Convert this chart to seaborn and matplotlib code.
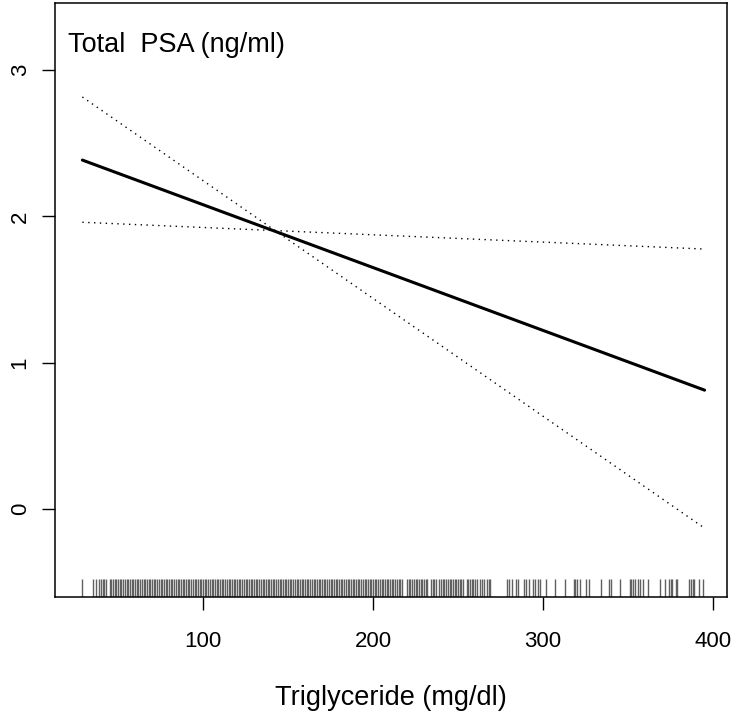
import numpy as np
import pandas as pd
import matplotlib
matplotlib.use("Agg")
import matplotlib.pyplot as plt
import seaborn as sns

# fitted line and confidence limits (endpoints)
tg_range = [29, 395]
fit_psa = [2.385, 0.813]
ci_steep = [2.816, -0.13]
ci_flat = [1.96, 1.777]

# rug: observed triglyceride values
tg_obs = [29, 35, 37, 39,
          40, 41, 42, 43, 45, 46, 47, 48, 49, 50, 51, 52, 53, 54, 55, 56,
          57, 58, 59, 60, 61, 62, 63, 64, 65, 66, 67, 68, 69, 70, 71, 72,
          73, 74, 75, 76, 77, 78, 79, 80, 81, 82, 83, 84, 85, 86, 87, 88,
          89, 90, 91, 92, 93, 94, 95, 96, 97, 98, 99, 100, 101, 102, 103, 104,
          105, 106, 107, 108, 109, 110, 111, 112, 113, 114, 115, 116, 117, 118, 119, 120,
          121, 122, 123, 124, 125, 126, 127, 128, 129, 130, 131, 132, 133, 134, 135, 136,
          137, 138, 139, 140, 141, 142, 143, 144, 145, 146, 147, 148, 149, 150, 151, 152,
          153, 154, 155, 156, 157, 158, 159, 160, 161, 162, 163, 164, 165, 166, 167, 168,
          169, 170, 171, 172, 173, 174, 175, 176, 177, 178, 179, 180, 181, 182, 183, 184,
          185, 186, 187, 188, 189, 190, 191, 192, 193, 194, 195, 196, 197, 198, 199, 200,
          201, 202, 203, 204, 205, 206, 207, 208, 209, 210, 211, 212, 213, 214, 215, 216,
          217, 220, 221, 222, 223, 224, 225, 226, 227, 228, 229, 230, 231, 232, 234, 235,
          236, 237, 239, 240, 241, 242, 243, 244, 245, 246, 247, 248, 249, 250, 251, 252,
          253, 255, 256, 257, 258, 259, 260, 261, 263, 264, 265, 267, 268, 269,
          279, 280, 282, 284, 285, 289, 290, 292, 294, 295, 297, 298, 302, 307,
          313, 318, 319, 320, 322, 325, 327, 334, 339, 340, 345, 351, 352, 353,
          354, 356, 357, 359, 362, 369, 372, 374, 375, 376, 378, 379, 386, 387,
          388, 389, 392, 394]

sns.set_style("ticks")
plt.rcParams['font.family'] = ['Liberation Sans', 'DejaVu Sans']
plt.rcParams['text.color'] = 'black'
plt.rcParams['axes.labelcolor'] = 'black'

fig = plt.figure(figsize=(7.43, 7.17), dpi=100)
ax = fig.add_axes([0.074, 0.1674, 0.9045, 0.8284])

sns.lineplot(x=tg_range, y=fit_psa, ax=ax, color="black", linewidth=2.2)
sns.lineplot(x=tg_range, y=ci_steep, ax=ax, color="black", linewidth=1.0,
             linestyle=(0, (1, 3.2)))
sns.lineplot(x=tg_range, y=ci_flat, ax=ax, color="black", linewidth=1.0,
             linestyle=(0, (1, 3.2)))
sns.rugplot(x=tg_obs, ax=ax, height=0.03, color="#606060", linewidth=1.0,
            expand_margins=False)

ax.set_xlim(12.9, 408.2)
ax.set_ylim(-0.6, 3.458)
ax.set_xticks([100, 200, 300, 400])
ax.set_yticks([0, 1, 2, 3])
ax.set_yticklabels(["0", "1", "2", "3"], rotation=90, va="center")
ax.tick_params(axis="both", labelsize=16, length=9.5, width=1.0, color="black",
               labelcolor="black")
ax.tick_params(axis="x", pad=15)
ax.tick_params(axis="y", pad=8)
for sp in ax.spines.values():
    sp.set_visible(True)
    sp.set_linewidth(1.1)
    sp.set_color("black")

ax.text(0.02, 0.951, "Total  PSA (ng/ml)", transform=ax.transAxes,
        fontsize=19.5, va="top", ha="left")
ax.set_xlabel("Triglyceride (mg/dl)", fontsize=19.5, labelpad=24)
ax.set_ylabel("")

fig.savefig("out.png", dpi=100)
